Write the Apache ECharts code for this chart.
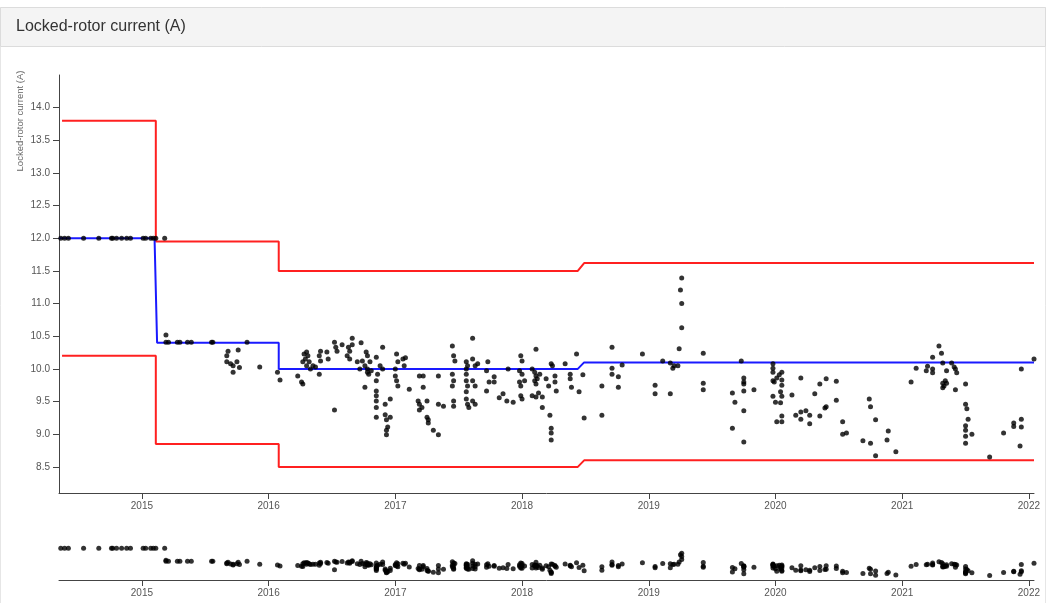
<!DOCTYPE html>
<html>
<head>
<meta charset="utf-8">
<script src="https://cdn.jsdelivr.net/npm/echarts@6/dist/echarts.min.js"></script>
<style>
html,body{margin:0;padding:0;background:#fff;}
#c{width:1046px;height:603px;}
</style>
</head>
<body>
<div id="c"></div>
<script>
// ---- data (decimal years, amps) ----
const title = 'Locked-rotor current (A)';
const yTicks = [8.5, 9.0, 9.5, 10.0, 10.5, 11.0, 11.5, 12.0, 12.5, 13.0, 13.5, 14.0];
const xTicks = [2015, 2016, 2017, 2018, 2019, 2020, 2021, 2022];

const upperYears = [2014.37, 2015.11, 2015.11, 2016.08, 2016.08, 2018.44, 2018.49, 2022.04];
const upperVals  = [13.8, 13.8, 11.95, 11.95, 11.5, 11.5, 11.62, 11.62];
const lowerYears = [2014.37, 2015.11, 2015.11, 2016.08, 2016.08, 2018.44, 2018.49, 2022.04];
const lowerVals  = [10.2, 10.2, 8.85, 8.85, 8.5, 8.5, 8.6, 8.6];
const nominalYears = [2014.346, 2015.10, 2015.12, 2016.08, 2016.08, 2018.44, 2018.49, 2022.04];
const nominalVals  = [12.0, 12.0, 10.4, 10.4, 10.0, 10.0, 10.1, 10.1];

const measured = [
  [2014.36,12.0],[2014.39,12.0],[2014.42,12.0],[2014.54,12.0],[2014.66,12.0],[2014.76,12.0],[2014.77,12.0],
  [2014.80,12.0],[2014.84,12.0],[2014.88,12.0],[2014.91,12.0],[2015.01,12.0],[2015.03,12.0],[2015.07,12.0],
  [2015.09,12.0],[2015.11,12.0],[2015.18,12.0],
  [2015.19,10.52],[2015.19,10.41],[2015.21,10.41],[2015.28,10.41],[2015.30,10.41],[2015.36,10.41],[2015.39,10.41],
  [2015.55,10.41],[2015.56,10.41],[2015.83,10.41],
  [2015.68,10.27],[2015.76,10.29],[2015.67,10.20],[2015.67,10.11],[2015.70,10.08],[2015.72,10.05],[2015.75,10.11],
  [2015.77,10.02],[2015.72,9.95],[2015.93,10.03],[2016.07,9.95],[2016.09,9.83],
  [2016.23,9.89],[2016.26,9.80],[2016.27,9.77],[2016.28,10.23],[2016.30,10.26],[2016.31,10.20],[2016.29,10.15],
  [2016.27,10.11],[2016.30,10.05],[2016.32,10.11],[2016.33,10.00],[2016.35,10.05],[2016.37,10.03],[2016.41,10.27],
  [2016.40,10.20],[2016.41,10.12],[2016.40,9.92],[2016.46,10.26],[2016.47,10.15],[2016.52,10.41],[2016.53,10.33],
  [2016.54,10.27],[2016.58,10.37],[2016.52,9.37],[2016.63,10.33],[2016.64,10.27],[2016.66,10.37],[2016.66,10.47],
  [2016.62,10.20],[2016.64,10.15],[2016.73,10.40],[2016.70,10.11],[2016.72,10.00],[2016.74,10.12],[2016.76,10.05],
  [2016.77,10.26],[2016.78,10.20],[2016.78,10.00],[2016.78,9.95],[2016.80,10.11],[2016.81,9.97],[2016.79,9.92],
  [2016.76,9.72],[2016.85,10.18],[2016.88,10.05],[2016.86,9.92],[2016.85,9.82],[2016.85,9.66],[2016.85,9.59],
  [2016.85,9.51],[2016.85,9.41],[2016.85,9.26],[2016.90,10.33],[2016.90,10.00],[2016.92,9.46],[2016.93,9.22],
  [2016.94,9.11],[2016.96,9.26],[2016.96,9.54],[2016.93,9.06],[2016.93,8.99],[2016.92,9.30],
  [2017.01,10.23],[2017.02,10.11],[2017.00,10.00],[2017.00,9.89],[2017.01,9.82],[2017.02,9.74],[2017.06,10.15],
  [2017.07,10.05],[2017.08,10.17],[2017.11,9.69],[2017.19,9.89],[2017.22,9.89],[2017.22,9.72],[2017.18,9.51],
  [2017.19,9.46],[2017.21,9.41],[2017.25,9.51],[2017.25,9.26],[2017.26,9.22],[2017.26,9.17],[2017.30,9.06],
  [2017.34,8.99],[2017.38,9.43],[2017.34,9.46],[2017.19,9.37],[2017.34,9.89],
  [2017.45,10.35],[2017.46,10.20],[2017.47,10.12],[2017.45,9.92],[2017.46,9.82],[2017.45,9.74],[2017.46,9.51],
  [2017.46,9.43],[2017.56,10.11],[2017.57,10.05],[2017.56,10.00],[2017.56,9.92],[2017.56,9.82],[2017.57,9.74],
  [2017.56,9.65],[2017.56,9.54],[2017.57,9.46],[2017.58,9.41],[2017.61,10.47],[2017.61,10.15],[2017.63,10.05],
  [2017.65,10.08],[2017.61,9.82],[2017.63,9.74],[2017.61,9.51],[2017.63,9.46],[2017.73,10.11],[2017.72,9.97],
  [2017.74,9.80],[2017.78,9.88],[2017.78,9.80],[2017.72,9.66],[2017.82,9.56],[2017.85,9.62],[2017.88,9.51],
  [2017.93,9.49],[2017.89,10.00],[2017.99,10.20],[2018.00,10.12],[2017.98,9.97],[2018.00,9.92],[2017.98,9.80],
  [2017.99,9.74],[2018.02,9.82],[2017.99,9.59],[2018.00,9.54],[2018.11,10.30],[2018.08,10.00],[2018.10,9.95],
  [2018.11,9.89],[2018.12,9.85],[2018.10,9.82],[2018.11,9.77],[2018.14,9.92],[2018.08,9.59],[2018.11,9.57],
  [2018.13,9.63],[2018.16,9.57],[2018.16,9.41],[2018.22,9.29],[2018.23,9.09],[2018.23,9.02],[2018.23,8.91],
  [2018.21,9.74],[2018.23,10.08],[2018.24,10.05],[2018.26,9.89],[2018.26,9.80],[2018.27,9.66],[2018.19,9.85],
  [2018.34,10.08],[2018.38,9.92],[2018.39,9.72],[2018.38,9.85],[2018.43,10.23],[2018.45,9.65],[2018.48,9.91],
  [2018.49,9.25],
  [2018.63,9.74],[2018.63,9.29],[2018.71,10.33],[2018.71,10.01],[2018.71,9.92],[2018.76,9.88],[2018.76,9.72],
  [2018.79,10.06],[2018.95,10.23],[2019.05,9.75],[2019.05,9.62],[2019.11,10.12],[2019.17,10.09],[2019.19,10.01],
  [2019.20,10.05],[2019.23,10.05],[2019.17,9.62],[2019.24,10.31],[2019.26,10.63],[2019.26,11.00],[2019.25,11.21],
  [2019.26,11.39],[2019.43,10.24],[2019.43,9.78],[2019.43,9.68],[2019.66,9.63],[2019.68,9.49],[2019.66,9.09],
  [2019.73,10.12],[2019.75,9.86],[2019.75,9.80],[2019.75,9.77],[2019.75,9.66],[2019.75,9.36],[2019.75,8.88],
  [2019.83,9.68],[2019.98,10.08],[2019.98,10.01],[2019.98,9.95],[2019.98,9.82],[2019.99,9.80],[2020.01,9.86],
  [2020.03,9.91],[2020.05,9.95],[2020.05,9.83],[2020.05,9.75],[2020.04,9.65],[2020.05,9.58],[2019.98,9.58],
  [2020.00,9.49],[2020.04,9.48],[2020.01,9.19],[2020.05,9.28],[2020.05,9.19],[2020.13,9.60],[2020.16,9.29],
  [2020.20,9.23],[2020.20,9.34],[2020.24,9.36],[2020.27,9.29],[2020.27,9.16],[2020.20,9.86],[2020.31,9.62],
  [2020.35,9.77],[2020.35,9.28],[2020.39,9.40],[2020.40,9.42],[2020.40,9.85],[2020.48,9.81],[2020.48,9.52],
  [2020.53,9.19],[2020.53,9.00],[2020.56,9.02],
  [2020.69,8.90],[2020.75,8.86],[2020.74,9.54],[2020.75,9.42],[2020.79,9.22],[2020.79,8.67],[2020.89,9.05],
  [2020.88,8.91],[2020.95,8.73],[2021.07,9.80],[2021.11,10.01],[2021.19,9.97],[2021.20,10.04],[2021.24,10.00],
  [2021.24,9.94],[2021.24,10.18],[2021.29,10.35],[2021.31,10.24],[2021.32,10.09],[2021.35,9.97],[2021.34,9.82],
  [2021.32,9.78],[2021.32,9.71],[2021.35,9.78],[2021.33,9.74],[2021.39,10.09],[2021.41,10.03],[2021.43,9.94],
  [2021.42,10.00],[2021.42,9.68],[2021.50,9.77],[2021.50,9.46],[2021.51,9.39],[2021.52,9.23],[2021.50,9.13],
  [2021.50,9.06],[2021.50,8.97],[2021.55,9.00],[2021.50,8.86],[2021.69,8.65],[2021.80,9.02],[2021.88,9.17],
  [2021.88,9.12],[2021.94,9.23],[2021.94,9.11],[2021.93,8.82],[2021.94,10.00],[2022.04,10.15]
];

// ---- chart ----
const xMin = 2014.346, xMax = 2022.04, yMin = 8.1, yMax = 14.5;
const zip = (a, b) => a.map((v, i) => [v, b[i]]);
const axisColor = '#444', labelColor = '#555', fontFam = '"Liberation Sans", Arial, sans-serif';

function xAxisDef(gi) {
  return {
    type: 'value', gridIndex: gi, min: xMin, max: xMax,
    axisLine: { show: true, onZero: false, lineStyle: { color: axisColor, width: 1 } },
    axisTick: { show: true, length: 6, customValues: xTicks, lineStyle: { color: axisColor } },
    axisLabel: { customValues: xTicks, formatter: v => String(Math.round(v)), color: labelColor,
      fontSize: 10, fontFamily: fontFam, margin: 8 },
    splitLine: { show: false }
  };
}

const chart = echarts.init(document.getElementById('c'));
chart.setOption({
  animation: false,
  backgroundColor: '#fff',
  graphic: [
    { type: 'rect', shape: { x: 0.5, y: 7.5, width: 1045, height: 600 }, style: { fill: 'none', stroke: '#e6e6e6', lineWidth: 1 }, z: 0 },
    { type: 'rect', shape: { x: 0.5, y: 7.5, width: 1045, height: 39 }, style: { fill: '#f4f4f4', stroke: '#dcdcdc', lineWidth: 1 }, z: 1 },
    { type: 'text', x: 16, y: 27, z: 2, style: { text: title, fontSize: 16, fontFamily: fontFam, fill: '#333', textVerticalAlign: 'middle' } },
    { type: 'text', x: 20, y: 121, rotation: Math.PI / 2, z: 2,
      style: { text: title, fontSize: 9.5, fontFamily: fontFam, fill: '#666', textAlign: 'center', textVerticalAlign: 'middle' } }
  ],
  grid: [
    { left: 59, right: 12, top: 75, bottom: 110 },
    { left: 59, right: 12, top: 528, bottom: 23 }
  ],
  xAxis: [xAxisDef(0), xAxisDef(1)],
  yAxis: [
    { type: 'value', gridIndex: 0, min: yMin, max: yMax,
      axisLine: { show: true, lineStyle: { color: axisColor, width: 1 } },
      axisTick: { show: true, length: 6, customValues: yTicks, lineStyle: { color: axisColor } },
      axisLabel: { customValues: yTicks, formatter: v => v.toFixed(1), color: labelColor, fontSize: 10, fontFamily: fontFam, margin: 9 },
      splitLine: { show: false } },
    { type: 'value', gridIndex: 1, min: yMin, max: yMax, show: false, splitLine: { show: false } }
  ],
  series: [
    { type: 'line', xAxisIndex: 0, yAxisIndex: 0, data: zip(upperYears, upperVals), symbol: 'none',
      lineStyle: { color: '#ff2020', width: 2 }, z: 2 },
    { type: 'line', xAxisIndex: 0, yAxisIndex: 0, data: zip(lowerYears, lowerVals), symbol: 'none',
      lineStyle: { color: '#ff2020', width: 2 }, z: 2 },
    { type: 'line', xAxisIndex: 0, yAxisIndex: 0, data: zip(nominalYears, nominalVals), symbol: 'none',
      lineStyle: { color: '#1a1aff', width: 2 }, z: 3 },
    { type: 'scatter', xAxisIndex: 0, yAxisIndex: 0, data: measured, symbol: 'circle', symbolSize: 5,
      itemStyle: { color: '#000' }, clip: false, z: 4 },
    { type: 'scatter', xAxisIndex: 1, yAxisIndex: 1, data: measured, symbol: 'circle', symbolSize: 5,
      itemStyle: { color: '#000' }, clip: false, z: 4 }
  ]
});
</script>
</body>
</html>
